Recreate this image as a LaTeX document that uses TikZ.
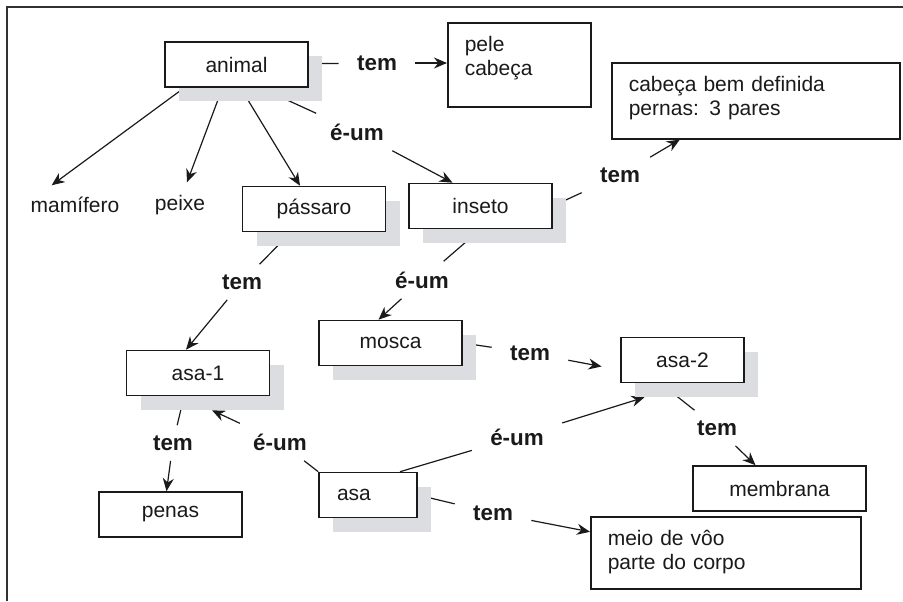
\documentclass[tikz,border=0pt]{standalone}
\usepackage{fontspec}
\setmainfont{Liberation Sans}
\usetikzlibrary{arrows.meta,shadows,backgrounds}

\definecolor{shade}{HTML}{DCDDE1}
\definecolor{ink}{HTML}{1A1A1A}

\tikzset{
  box/.style={draw=ink, line width=0.8pt, fill=white, text=ink, minimum width=71.5pt, minimum height=22.5pt, inner sep=0pt, font=\fontsize{10.5}{12}\selectfont},
  shadowed/.style={drop shadow={shadow xshift=7pt, shadow yshift=-7pt, fill=shade, opacity=1}},
  listbox/.style={draw=ink, line width=0.8pt, fill=white, text=ink, anchor=north west, align=left, inner xsep=8.5pt, inner ysep=7pt, text height=7.5pt, font=\fontsize{10.5}{11.75}\selectfont},
  word/.style={inner sep=0pt, text=ink, font=\fontsize{10.5}{12}\selectfont},
  rel/.style={inner xsep=9pt, inner ysep=5pt, text=ink, font=\bfseries\fontsize{11.2}{13}\selectfont},
  link/.style={line width=0.6pt, draw=ink},
  arr/.style={link, -{Stealth[length=6.5pt,width=5.5pt]}}
}

\begin{document}
\begin{tikzpicture}[x=0.5pt, y=-0.5pt]
    \useasboundingbox (0,0) rectangle (903,601);

    % outer frame
    \draw[line width=1pt, draw=ink!90] (7,601) -- (7,7) -- (903,7);

    % concepts
    \node[box, shadowed] (animal) at (236.5,64.5) {animal};
    \node[box, shadowed] (passaro) at (314,209) {pássaro};
    \node[box, shadowed] (inseto) at (480.5,206) {inseto};
    \node[box, shadowed] (mosca) at (390.5,343) {mosca};
    \node[box, shadowed] (asa1) at (198,373) {asa-1};
    \node[box, shadowed, minimum width=61.5pt] (asa2) at (682.5,360) {asa-2};
    \node[box, shadowed, minimum width=49pt, inner xsep=9pt, text width=31pt, align=left] (asa) at (368,495) {asa};
    \node[box] (penas) at (170.5,514.5) {penas};
    \node[box, minimum width=86.5pt] (membrana) at (779.5,488.5) {membrana};

    \node[word] (mamif) at (75,205) {mamífero};
    \node[word] (peixe) at (180,205) {peixe};

    % property lists
    \node[listbox, text width=54.5pt, text depth=20.5pt] (pele) at (447,22) {pele\\cabeça};
    \node[listbox, text width=127pt, text depth=16.5pt] (cabeca) at (611,62) {cabeça bem definida\\pernas: 3 pares};
    \node[listbox, text width=118pt, text depth=14.5pt] (meio) at (590,516) {meio de vôo\\parte do corpo};

    % relation labels
    \node[rel] (tA) at (377,63) {tem};
    \node[rel] (eA) at (357,132) {é-um};
    \node[rel] (tI) at (620,175) {tem};
    \node[rel] (tP) at (242,282) {tem};
    \node[rel] (eI) at (422,280) {é-um};
    \node[rel] (tM) at (530,353) {tem};
    \node[rel] (t1) at (173,443) {tem};
    \node[rel] (e1) at (280,442) {é-um};
    \node[rel] (e2) at (517,437) {é-um};
    \node[rel] (t2) at (717,428) {tem};
    \node[rel] (tS) at (493,513) {tem};

    % links go behind boxes and shadows
    \begin{scope}[on background layer]
        \draw[link] (animal) -- (tA);
        \draw[arr] (tA) -- (tA -| pele.west);
        \draw[arr] ([xshift=10pt]animal.south west) -- ([shift={(10.7pt,5.75pt)}]mamif.north west);
        \draw[arr] ([xshift=-7pt]animal.south) -- ([shift={(3.5pt,6.25pt)}]peixe.north);
        \draw[arr] ([xshift=2pt]animal.south) -- ([xshift=-7pt]passaro.north);
        \draw[link] ([xshift=12pt]animal.south) -- (eA);
        \draw[arr] (eA) -- ([xshift=-14pt]inseto.north);

        \draw[link] (inseto.east) -- (tI);
        \draw[arr] (tI) -- ([xshift=-38pt]cabeca.south);
        \draw[link] (passaro) -- (tP);
        \draw[arr] (tP) -- ([xshift=-6pt]asa1.north);
        \draw[link] (inseto.south) -- (eI);
        \draw[arr] (eI) -- ([xshift=-6pt]mosca.north);

        \draw[link] (mosca.east) -- (tM);
        \draw[arr, shorten >=9.5pt] (tM) -- ([yshift=-5pt]asa2.west);
        \draw[link] ([xshift=-7pt]asa1.south) -- (t1);
        \draw[arr] (t1) -- ([xshift=-2pt]penas.north);

        \draw[link] (asa.north west) -- (e1);
        \draw[arr] (e1) -- ([shift={(7pt,-7pt)}]asa1.south);
        \draw[link] ([xshift=16pt]asa.north) -- (e2);
        \draw[arr] (e2) -- ([shift={(-19pt,-7pt)}]asa2.south);
        \draw[link] ([xshift=-11pt]asa2.south) -- (t2);
        \draw[arr] (t2) -- ([xshift=-12pt]membrana.north);
        \draw[link] (asa.east) -- (tS);
        \draw[arr] (tS) -- ([yshift=10.5pt]meio.west);
    \end{scope}
\end{tikzpicture}
\end{document}
